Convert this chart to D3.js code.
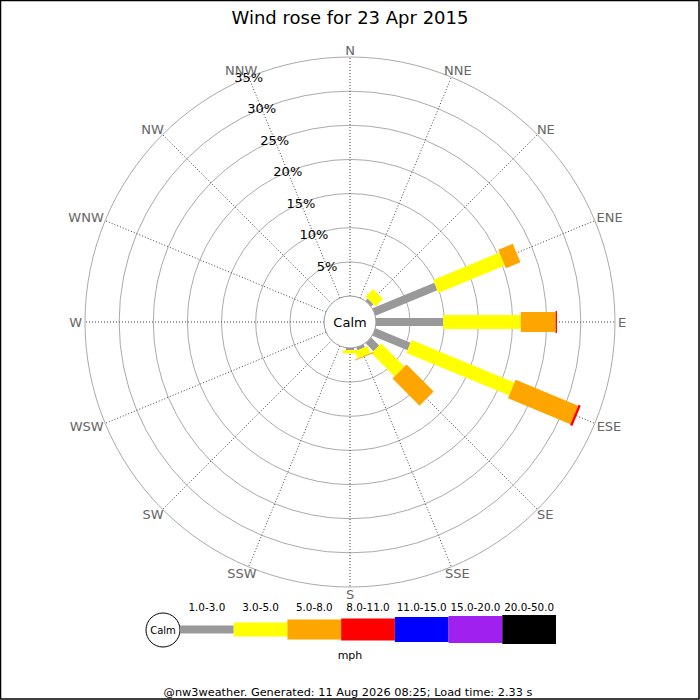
<!DOCTYPE html>
<html>
<head>
<meta charset="utf-8">
<script src="https://cdn.jsdelivr.net/npm/d3@7"></script>
<style>
  html, body { margin: 0; padding: 0; background: #fff; }
  svg { display: block; font-family: "DejaVu Sans", sans-serif; }
</style>
</head>
<body>
<svg id="chart" width="700" height="700"></svg>
<script>
// ---- Data ----
const title = "Wind rose for 23 Apr 2015";
const directions = ["N","NNE","NE","ENE","E","ESE","SE","SSE","S","SSW","SW","WSW","W","WNW","NW","NNW"];
const speedBins = ["1.0-3.0","3.0-5.0","5.0-8.0","8.0-11.0","11.0-15.0","15.0-20.0","20.0-50.0"];
const binColors = ["#999999","#ffff00","#ffa500","#ff0000","#0000ff","#a020f0","#000000"];
// percentage of time per direction, per speed bin (mph)
const bin1to3   = [0, 0, 0.45, 9.8, 9.85, 5.55, 1.65, 0.45, 0.3, 0, 0, 0, 0, 0, 0, 0];
const bin3to5   = [0, 0, 1.55, 10.5, 11.35, 16.3, 4.8, 1.1, 0.5, 0, 0, 0, 0, 0, 0, 0];
const bin5to8   = [0, 0, 0, 2.3, 5.1, 9.9, 5.6, 0.15, 0, 0, 0, 0, 0, 0, 0, 0];
const bin8to11  = [0, 0, 0, 0, 0.2, 0.35, 0, 0, 0, 0, 0, 0, 0, 0, 0, 0];
const bin11to15 = [0, 0, 0, 0, 0, 0, 0, 0, 0, 0, 0, 0, 0, 0, 0, 0];
const bin15to20 = [0, 0, 0, 0, 0, 0, 0, 0, 0, 0, 0, 0, 0, 0, 0, 0];
const bin20to50 = [0, 0, 0, 0, 0, 0, 0, 0, 0, 0, 0, 0, 0, 0, 0, 0];
const percentTicks = [5, 10, 15, 20, 25, 30, 35];
const unitLabel = "mph";
const footer = "@nw3weather. Generated: 11 Aug 2026 08:25; Load time: 2.33 s";

const series = [bin1to3, bin3to5, bin5to8, bin8to11, bin11to15, bin15to20, bin20to50];

// ---- Layout ----
const W = 700, H = 700;
const cx = 350, cy = 322;
const innerR = 26, outerR = 265;
const barWidths = [8, 14, 20, 22, 25, 27, 29];

const svg = d3.select("#chart");

// border
svg.append("rect").attr("x", 0.5).attr("y", 0.5).attr("width", 698.5).attr("height", 698.5)
  .attr("fill", "none").attr("stroke", "#000").attr("stroke-width", 1.5);

// title
svg.append("text").attr("x", 350).attr("y", 24).attr("text-anchor", "middle")
  .attr("font-size", 18).attr("fill", "#000").text(title);

const r = d3.scaleLinear().domain([0, 35]).range([innerR, outerR]);
const angle = d3.scalePoint().domain(directions).range([0, 360 - 22.5]);

const g = svg.append("g").attr("transform", `translate(${cx},${cy})`);

// rings
g.selectAll("circle.ring").data(percentTicks).join("circle")
  .attr("class", "ring").attr("r", d => r(d))
  .attr("fill", "none").attr("stroke", "#aaaaaa").attr("stroke-width", 1);

// radial spokes
g.selectAll("line.spoke").data(directions).join("line")
  .attr("class", "spoke")
  .attr("x1", d => innerR * Math.sin(angle(d) * Math.PI / 180))
  .attr("y1", d => -innerR * Math.cos(angle(d) * Math.PI / 180))
  .attr("x2", d => outerR * Math.sin(angle(d) * Math.PI / 180))
  .attr("y2", d => -outerR * Math.cos(angle(d) * Math.PI / 180))
  .attr("stroke", "#444").attr("stroke-width", 1).attr("stroke-dasharray", "1,2");

// bars (stacked outward)
directions.forEach((dir, i) => {
  let cum = 0;
  const dg = g.append("g").attr("transform", `rotate(${angle(dir) - 90})`);
  series.forEach((s, k) => {
    const v = s[i];
    if (v > 0) {
      const r0 = r(cum), r1 = r(cum + v);
      dg.append("rect")
        .attr("x", r0).attr("y", -barWidths[k] / 2)
        .attr("width", r1 - r0).attr("height", barWidths[k])
        .attr("fill", binColors[k]);
    }
    cum += v;
  });
});

// calm circle
g.append("circle").attr("r", innerR).attr("fill", "#fff").attr("stroke", "#999").attr("stroke-width", 1);
g.append("text").attr("text-anchor", "middle").attr("dominant-baseline", "central")
  .attr("font-size", 13).attr("fill", "#000").text("Calm");

// percent labels along NNW
const labA = -22.5 * Math.PI / 180;
g.selectAll("text.pct").data(percentTicks).join("text")
  .attr("class", "pct")
  .attr("x", d => r(d) * Math.sin(labA))
  .attr("y", d => -r(d) * Math.cos(labA))
  .attr("text-anchor", "middle").attr("dominant-baseline", "central")
  .attr("font-size", 13).attr("fill", "#000").text(d => d + "%");

// direction labels
g.selectAll("text.dir").data(directions).join("text")
  .attr("class", "dir")
  .attr("text-anchor", "middle").attr("dominant-baseline", "central")
  .attr("font-size", 13).attr("fill", "#666").text(d => d)
  .each(function(d) {
    const a = angle(d) * Math.PI / 180;
    const w = this.getComputedTextLength();
    d3.select(this)
      .attr("x", 268 * Math.sin(a) + Math.sin(a) * w / 2)
      .attr("y", -272 * Math.cos(a));
  });

// ---- Legend ----
const legX0 = 180, legX1 = 556, legY = 629.5;
const legend = svg.append("g");
const lx = d3.scaleBand().domain(speedBins).range([legX0, legX1]).padding(0);
legend.append("circle").attr("cx", 163).attr("cy", 630).attr("r", 17)
  .attr("fill", "#fff").attr("stroke", "#000").attr("stroke-width", 1);
legend.append("text").attr("x", 163).attr("y", 630).attr("text-anchor", "middle")
  .attr("dominant-baseline", "central").attr("font-size", 10).text("Calm");
legend.selectAll("rect.leg").data(speedBins).join("rect")
  .attr("class", "leg")
  .attr("x", d => lx(d)).attr("width", lx.bandwidth())
  .attr("y", (d, i) => legY - barWidths[i] / 2).attr("height", (d, i) => barWidths[i])
  .attr("fill", (d, i) => binColors[i]);
legend.selectAll("text.leg").data(speedBins).join("text")
  .attr("class", "leg")
  .attr("x", d => lx(d) + lx.bandwidth() / 2).attr("y", 611)
  .attr("text-anchor", "middle").attr("font-size", 10.4).text(d => d);
legend.append("text").attr("x", 350).attr("y", 659).attr("text-anchor", "middle")
  .attr("font-size", 11).text(unitLabel);

// footer
svg.append("text").attr("x", 348).attr("y", 696).attr("text-anchor", "middle")
  .attr("font-size", 11.3).attr("fill", "#000").text(footer);
</script>
</body>
</html>
